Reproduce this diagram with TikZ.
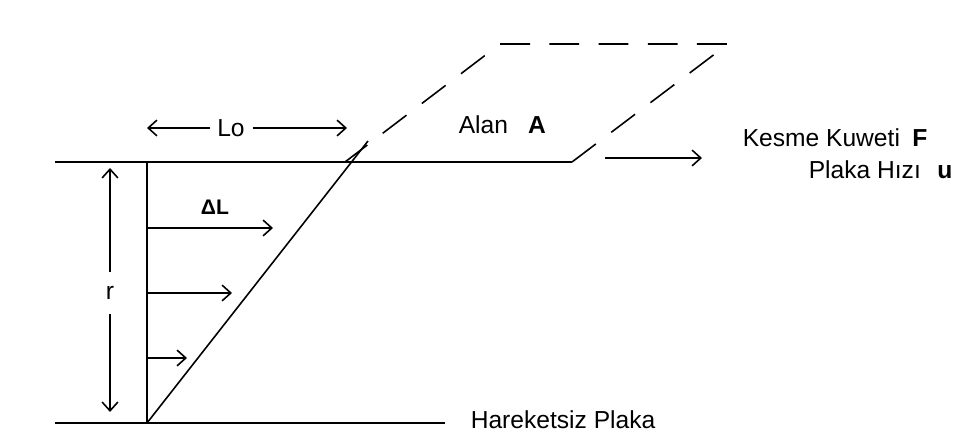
\documentclass[tikz,border=0pt]{standalone}
\usepackage{fontspec}
\setmainfont{Liberation Sans}
\usetikzlibrary{arrows.meta}

\begin{document}
\begin{tikzpicture}[>={Straight Barb[length=5pt,width=9pt]},x=0.02cm,y=-0.02cm,line width=0.9pt,
	lbl/.style={inner sep=0pt,anchor=west,font=\fontsize{14}{16}\selectfont},
	sym/.style={inner sep=0pt,anchor=base,font=\fontsize{14}{16}\selectfont\bfseries}]
		\useasboundingbox (0,0) rectangle (964,442);
		% levhalar
		\coordinate (top-l) at (55,162);
		\coordinate (top-r) at (572,162);
		\coordinate (bot-l) at (55,423);
		\coordinate (bot-r) at (445,423);
		\coordinate (base) at (147,423);
		\coordinate (base-t) at (147,162);
		\coordinate (shear) at (368,141);
		\draw (top-l) -- (top-r);
		\draw (bot-l) -- (bot-r);
		\draw (base) -- (base-t);
		\draw (base) -- (shear);
		% kaymis levha
		\coordinate (new-l) at (500,44);
		\coordinate (new-r) at (728,44);
		\coordinate (cross) at (345,162);
		\draw[dash pattern=on 17pt off 11pt] (top-r) -- (new-r) -- (new-l) -- (cross);
		% hiz profili
		\foreach \i/\y/\x in {1/228/273,2/293/232,3/358/187} {
			\coordinate (v\i-s) at (147,\y);
			\coordinate (v\i-e) at (\x,\y);
			\draw[->] (v\i-s) -- (v\i-e);
		}
		\coordinate (f-s) at (605,158);
		\coordinate (f-e) at (702,158);
		\draw[->] (f-s) -- (f-e);
		% olculer
		\node[lbl,anchor=center,inner xsep=4pt] (lo) at (231,128) {Lo};
		\coordinate (lo-l) at (147,128);
		\coordinate (lo-r) at (347,128);
		\draw[->] (lo.west) -- (lo-l);
		\draw[->] (lo.east) -- (lo-r);
		\node[lbl,anchor=center,inner ysep=8pt] (r) at (110,293) {r};
		\coordinate (r-t) at (110,168);
		\coordinate (r-b) at (110,412);
		\draw[->] (r.north) -- (r-t);
		\draw[->] (r.south) -- (r-b);
		\node[sym,anchor=center,font=\fontsize{12}{14}\selectfont\bfseries] (dl) at (215,207) {ΔL};
		% yazilar
		\node[lbl] (alan) at (458,125) {Alan};
		\node[sym] (area) at (537,0 |- alan.base) {A};
		\node[lbl] (kesme) at (742,138) {Kesme Kuweti};
		\node[sym] (force) at (920,0 |- kesme.base) {F};
		\node[lbl] (hiz) at (808,170) {Plaka Hızı};
		\node[sym] (speed) at (945,0 |- hiz.base) {u};
		\node[lbl] (sabit) at (470,420) {Hareketsiz Plaka};
	\end{tikzpicture}
\end{document}
